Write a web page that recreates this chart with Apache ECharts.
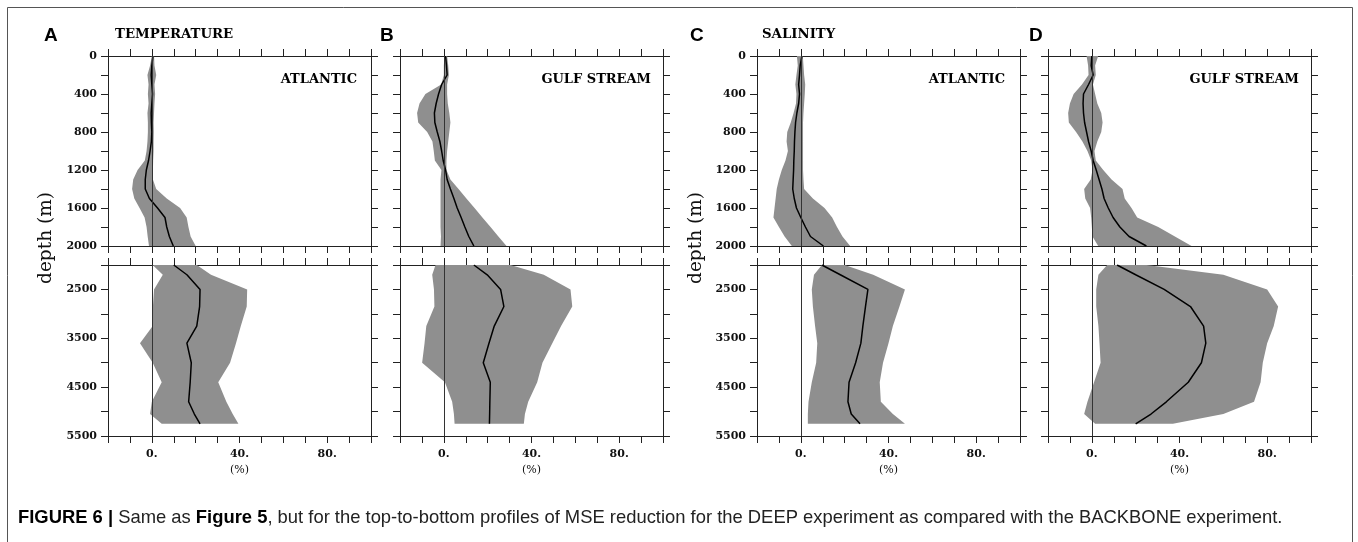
<!DOCTYPE html>
<html>
<head>
<meta charset="utf-8">
<script src="https://cdn.jsdelivr.net/npm/echarts@6/dist/echarts.min.js"></script>
<style>
html,body{margin:0;padding:0;background:#fff;}
#chart{width:1358px;height:542px;}
</style>
</head>
<body>
<div id="chart"></div>
<script>
// ---------- data ----------
const topDepth = [0,100,200,300,400,500,600,700,800,900,1000,1100,1200,1300,1400,1500,1600,1700,1800,1900,2000];
const botDepth = [2000,2200,2500,2850,3250,3600,4000,4400,4800,5050,5250];

const xTickLabels = [0, 40, 80];
const topDepthLabels = [0, 400, 800, 1200, 1600, 2000];
const botDepthLabels = [2500, 3500, 4500, 5500];

const panelLetters = ['A','B','C','D'];
const variableTitles = ['TEMPERATURE','','SALINITY',''];
const regionNames = ['ATLANTIC','GULF STREAM','ATLANTIC','GULF STREAM'];

// A: temperature, Atlantic
const A_top_mean = [0.5,0,-0.3,0,0.3,0,-0.3,-0.2,0,-0.2,-0.8,-1.5,-2.5,-3,-3,-1.1,2.6,6,6.8,8,9.8];
const A_top_lo   = [0,-0.8,-2,-1.5,-1.8,-1.5,-2,-1.8,-1.8,-2,-2.4,-3.2,-6.5,-8.5,-9,-8,-5.6,-3.3,-2.4,-1.9,-1.3];
const A_top_hi   = [1,1.2,2,1.2,1.5,1.2,1,0.8,0.9,0.8,0.8,0.6,0.5,0.5,2,6.8,12.9,15.9,16.7,17.7,20];
const A_bot_mean = [10,16,22,21.8,20.5,16,18,17.5,16.8,19.4,22];
const A_bot_lo   = [0.4,5,1,0.5,0.4,-5.4,0.4,4.5,0,-0.8,4.5];
const A_bot_hi   = [20.5,27,43.5,43.3,40.6,38.4,35.7,30.3,34,36.9,39.5];

// B: temperature, Gulf Stream
const B_top_mean = [0.8,1.2,1.5,-1,-2.4,-3.5,-4.3,-4.1,-3,-1.8,-1,-0.3,0.8,1.5,3,4.6,6.1,7.9,9.6,11.4,13.7];
const B_top_lo   = [0.3,0,0,-1.2,-8.4,-11.1,-12.2,-11.7,-7.6,-5.2,-4.6,-4.1,-1.1,-1.5,-1.5,-1.5,-1.5,-1.5,-1.5,-1.3,-1.5];
const B_top_hi   = [1.5,2,2.3,1.5,1.5,1.8,2.5,3,2.5,2,1.5,1.2,1.2,3,6.7,10.3,14,17.6,21.3,24.9,28.6];
const B_bot_mean = [13.7,19.8,25.9,27.4,23,20.6,18,21.2,21,20.9,20.8];
const B_bot_lo   = [-3.8,-5.3,-4.5,-4.3,-8,-8.8,-9.9,0.5,3.8,4.6,4.9];
const B_bot_hi   = [30.4,45.6,57.8,58.6,53.5,49.5,45,42.6,38.5,37,36.5];

// C: salinity, Atlantic
const C_top_mean = [0.5,-0.3,-0.6,-1,-0.6,-1,-1.8,-2.4,-2.7,-2.9,-3,-3.2,-3.3,-3.5,-3.7,-3,-2,0,2.1,4.4,10.3];
const C_top_lo   = [-1.8,-1.4,-2,-2.5,-2,-2.2,-3.3,-4.6,-6.2,-6.5,-5.9,-7,-8.7,-10,-11,-11.5,-12,-12.5,-10,-7.4,-4.1];
const C_top_hi   = [0.9,1.2,1.5,2,1.8,1.5,1.2,1,1,1,1,1,1,1.2,1.5,5.5,10.8,14.3,16.5,19,22.5];
const C_bot_mean = [9.6,18,30.6,29.5,28.3,27.4,25,22,21.5,23,27];
const C_bot_lo   = [9.6,6,5,5.5,6.5,7.5,7,5,3.5,3.2,3.2];
const C_bot_hi   = [20,33,47.5,45,42,40,37.5,36,36.5,42,47.5];

// D: salinity, Gulf Stream
const D_top_mean = [0,-0.3,0.6,-1.5,-3.8,-4,-3.8,-3.3,-2.4,-1.5,-0.3,0.6,2,3.3,4.6,5.6,7.5,9.7,12.8,17,24.9];
const D_top_lo   = [-2.4,-1.7,-1.5,-4.5,-8.3,-10,-10.8,-10.5,-7.2,-4.3,-2,-0.3,0.3,-0.5,-3.5,-3,-0.8,-0.3,0,0.3,2.9];
const D_top_hi   = [2.9,1.5,1.8,0.5,1.5,2.5,4.3,4.9,4.3,2.5,1.2,1.8,5.2,9,14,15,18.1,20.7,30.3,37.9,45.5];
const D_bot_mean = [11.5,20,33,45,51,52,50,44,34,27,20];
const D_bot_lo   = [7,3,2,2,3,3.5,4,1,-2,-3.5,1.5];
const D_bot_hi   = [25,60,80,85,83,80,78,77,74,60,37];

const captionBold1 = 'FIGURE 6 | ';
const captionText1 = 'Same as ';
const captionBold2 = 'Figure 5';
const captionText2 = ', but for the top-to-bottom profiles of MSE reduction for the DEEP experiment as compared with the BACKBONE experiment.';

// ---------- layout ----------
const panelLeft = [108, 400, 757, 1048];
const panelWidth = 263;
const topGrid = {top: 56, height: 190};
const botGrid = {top: 265, height: 171};
const showYLabels = [true, false, true, false];

const profiles = [
  {top:[A_top_mean,A_top_lo,A_top_hi], bot:[A_bot_mean,A_bot_lo,A_bot_hi]},
  {top:[B_top_mean,B_top_lo,B_top_hi], bot:[B_bot_mean,B_bot_lo,B_bot_hi]},
  {top:[C_top_mean,C_top_lo,C_top_hi], bot:[C_bot_mean,C_bot_lo,C_bot_hi]},
  {top:[D_top_mean,D_top_lo,D_top_hi], bot:[D_bot_mean,D_bot_lo,D_bot_hi]}
];

const AX = '#222';
const SERIF = 'DejaVu Serif';
const labelFont = {fontFamily: SERIF, fontWeight: 'bold', fontSize: 11, color: '#111'};
const lineStyle = {color: AX, width: 1};
const tickStyle = {show: true, inside: false, length: 7, lineStyle: {color: AX, width: 1}};

const grids = [], xAxes = [], yAxes = [], series = [];

function addPanel(p, part) {
  const isTop = part === 'top';
  const g = grids.length;
  grids.push({
    left: panelLeft[p], width: panelWidth,
    top: isTop ? topGrid.top : botGrid.top,
    height: isTop ? topGrid.height : botGrid.height,
    containLabel: false, outerBoundsMode: 'none'
  });
  const xBase = {
    type: 'value', gridIndex: g, min: -20, max: 100, interval: 10,
    splitLine: {show: false}, axisLine: {show: true, onZero: false, lineStyle},
    axisTick: tickStyle
  };
  xAxes.push(Object.assign({}, xBase, {
    position: 'bottom',
    axisLabel: isTop ? {show: false} : Object.assign({
      show: true, margin: 13,
      formatter: v => xTickLabels.indexOf(v) >= 0 ? v + '.' : ''
    }, labelFont),
    name: isTop ? '' : '(%)', nameLocation: 'middle', nameGap: 29,
    nameTextStyle: {fontFamily: SERIF, fontSize: 11, color: '#111'}
  }));
  xAxes.push(Object.assign({}, xBase, {position: 'top', axisLabel: {show: false}}));
  const yBase = {
    type: 'value', gridIndex: g, inverse: true,
    min: isTop ? 0 : 2000, max: isTop ? 2000 : 5500, interval: isTop ? 200 : 500,
    splitLine: {show: false}, axisLine: {show: true, onZero: false, lineStyle},
    axisTick: tickStyle
  };
  const labs = isTop ? topDepthLabels : botDepthLabels;
  yAxes.push(Object.assign({}, yBase, {
    position: 'left',
    axisLabel: showYLabels[p] ? Object.assign({
      show: true, margin: 11, showMinLabel: true, showMaxLabel: true,
      formatter: v => labs.indexOf(v) >= 0 ? String(v) : ''
    }, labelFont) : {show: false}
  }));
  yAxes.push(Object.assign({}, yBase, {position: 'right', axisLabel: {show: false}}));

  const depth = isTop ? topDepth : botDepth;
  const [mean, lo, hi] = profiles[p][part];
  const xi = xAxes.length - 2, yi = yAxes.length - 2;
  series.push({
    type: 'custom', coordinateSystem: 'cartesian2d', xAxisIndex: xi, yAxisIndex: yi,
    silent: true, z: 1, clip: true,
    data: depth.map((d, i) => [lo[i], d, hi[i]]),
    encode: {x: [0, 2], y: 1},
    renderItem: function (params, api) {
      if (params.dataIndex !== 0) return null;
      const pts = [];
      for (let i = 0; i < depth.length; i++) pts.push(api.coord([hi[i], depth[i]]));
      for (let i = depth.length - 1; i >= 0; i--) pts.push(api.coord([lo[i], depth[i]]));
      return {type: 'polygon', shape: {points: pts}, style: {fill: '#8f8f8f', stroke: null}};
    }
  });
  series.push({
    type: 'line', xAxisIndex: xi, yAxisIndex: yi, z: 3, silent: true,
    data: depth.map((d, i) => [mean[i], d]),
    symbol: 'none', smooth: false,
    lineStyle: {color: '#000', width: 1.5},
    markLine: {
      silent: true, symbol: ['none', 'none'], label: {show: false},
      lineStyle: {color: '#333', width: 1, type: 'solid'},
      emphasis: {disabled: true},
      data: [{xAxis: 0}]
    }
  });
}

for (let p = 0; p < 4; p++) { addPanel(p, 'top'); addPanel(p, 'bot'); }

// ---------- text ----------
const graphic = [
  {type: 'rect', silent: true, shape: {x: 7.5, y: 7.5, width: 1345, height: 600},
   style: {fill: 'none', stroke: '#555', lineWidth: 1}}
];
const letterX = [44, 380, 690, 1029];
panelLetters.forEach((t, i) => graphic.push({
  type: 'text', left: letterX[i], top: 26, silent: true,
  style: {text: t, font: 'bold 19px "Liberation Sans", Arial, sans-serif', fill: '#000'}
}));
const titleX = [115, 0, 762, 0];
variableTitles.forEach((t, i) => { if (t) graphic.push({
  type: 'text', x: titleX[i], y: 35, silent: true,
  style: {text: t, font: 'bold 13.3px "DejaVu Serif", serif', fill: '#000', verticalAlign: 'middle', align: 'left'}
}); });
const regionRight = [357, 651, 1005, 1299];
regionNames.forEach((t, i) => graphic.push({
  type: 'text', x: regionRight[i], y: 80, silent: true,
  style: {text: t, font: 'bold 13px "DejaVu Serif", serif', fill: '#000', verticalAlign: 'middle', align: 'right'}
}));
[46, 696].forEach(x => graphic.push({
  type: 'text', x: x, y: 238, rotation: Math.PI / 2, silent: true,
  style: {text: 'depth (m)', font: '18.5px "DejaVu Serif", serif', fill: '#111', align: 'center', verticalAlign: 'middle'}
}));
graphic.push({
  type: 'text', x: 18, y: 518, silent: true,
  style: {
    text: '{b|' + captionBold1 + '}' + captionText1 + '{b|' + captionBold2 + '}' + captionText2,
    font: '18.4px "Liberation Sans", Arial, sans-serif', fill: '#222', verticalAlign: 'middle',
    rich: {b: {fontWeight: 'bold', fontSize: 18.4, fontFamily: '"Liberation Sans", Arial, sans-serif', fill: '#000'}}
  }
});

const chart = echarts.init(document.getElementById('chart'), null, {renderer: 'canvas'});
chart.setOption({
  animation: false,
  backgroundColor: '#fff',
  grid: grids, xAxis: xAxes, yAxis: yAxes, series: series,
  graphic: graphic
});
</script>
</body>
</html>
